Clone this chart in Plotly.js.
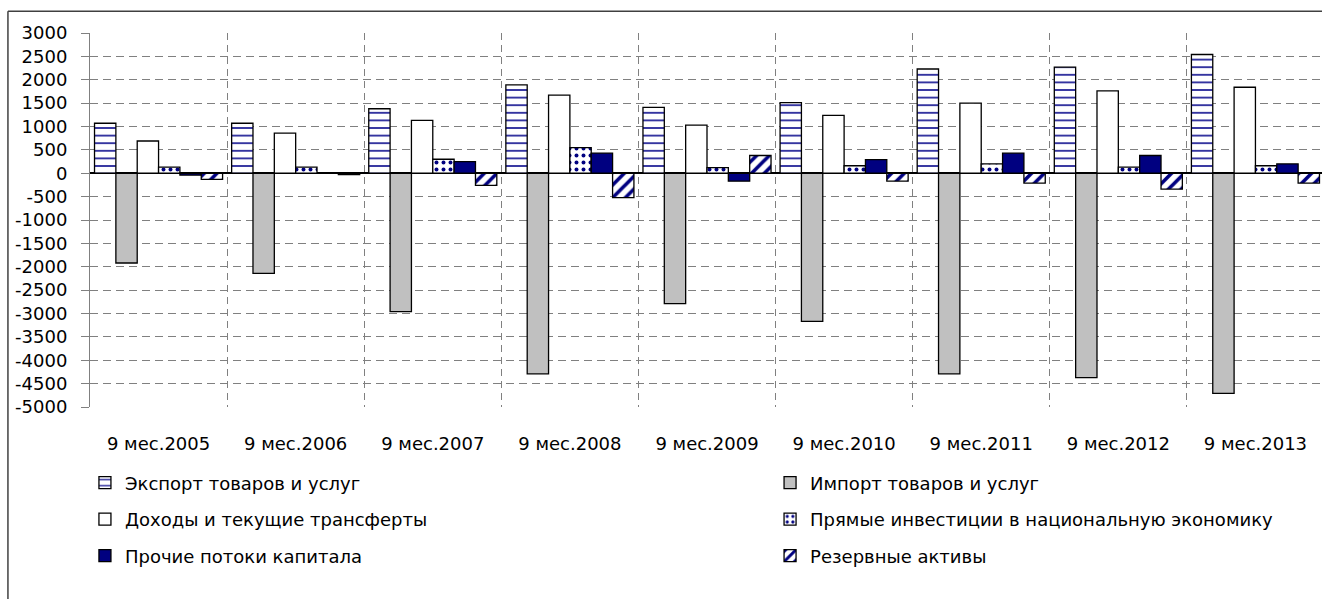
<!DOCTYPE html>
<html>
<head>
<meta charset="utf-8">
<script src="https://cdn.plot.ly/plotly-3.0.1.min.js"></script>
<style>
html,body{margin:0;padding:0;overflow:hidden;background:#fff;}
#chart{width:1340px;height:599px;}
</style>
</head>
<body>
<div id="chart"></div>
<script>
const categories = ["9 мес.2005","9 мес.2006","9 мес.2007","9 мес.2008","9 мес.2009","9 мес.2010","9 мес.2011","9 мес.2012","9 мес.2013"];
const exportVals   = [1070, 1070, 1380, 1890, 1410, 1510, 2230, 2270, 2540];
const importVals   = [-1920, -2140, -2960, -4290, -2790, -3170, -4290, -4370, -4710];
const incomeVals   = [690, 860, 1130, 1670, 1030, 1240, 1500, 1760, 1840];
const directVals   = [130, 130, 300, 550, 120, 160, 200, 130, 160];
const otherVals    = [-40, 0, 250, 430, -170, 290, 430, 380, 200];
const reserveVals  = [-130, -30, -260, -520, 380, -170, -210, -340, -210];
const seriesNames = ["Экспорт товаров и услуг","Импорт товаров и услуг","Доходы и текущие трансферты","Прямые инвестиции в национальную экономику","Прочие потоки капитала","Резервные активы"];
const yTicks = [3000,2500,2000,1500,1000,500,0,-500,-1000,-1500,-2000,-2500,-3000,-3500,-4000,-4500,-5000];

const NAVY = '#000080';
const FAMILY = 'DejaVu Sans';
const FONT = {family:FAMILY, size:18, color:'#000'};
const LFONT = {family:FAMILY, size:18, color:'#000'};
const outline = {color:'#000', width:1.3};

function bar(name, vals, marker, legend){
  return {type:'bar', name:name, x:categories, y:vals, legend:legend,
    marker:Object.assign({line:outline}, marker), hoverinfo:'skip'};
}

const traces = [
  bar(seriesNames[0], exportVals, {color:'#fff', pattern:{shape:'-', fgcolor:'#3535a0', bgcolor:'#fff', size:7.6, solidity:0.25}}, 'legend'),
  bar(seriesNames[1], importVals, {color:'#c0c0c0'}, 'legend2'),
  bar(seriesNames[2], incomeVals, {color:'#fff'}, 'legend3'),
  bar(seriesNames[3], directVals, {color:'#fff', pattern:{shape:'.', fgcolor:NAVY, bgcolor:'#fff', size:7, solidity:0.25}}, 'legend4'),
  bar(seriesNames[4], otherVals, {color:NAVY}, 'legend5'),
  bar(seriesNames[5], reserveVals, {color:'#fff', pattern:{shape:'/', fgcolor:NAVY, bgcolor:'#fff', size:9, solidity:0.4}}, 'legend6')
];

// legend placement in paper coordinates (plot area: 1234 x 374 px)
const colX = [-0.0041, 0.5511];
const rowY = [-0.2032, -0.3008, -0.3984];
function leg(c, r){
  return {orientation:'v', x:colX[c], y:rowY[r], xanchor:'left', yanchor:'middle',
    font:LFONT, bgcolor:'rgba(0,0,0,0)', itemclick:false, itemdoubleclick:false, visible:true};
}

const layout = {
  width:1340, height:599,
  margin:{l:90, r:16, t:33, b:192},
  paper_bgcolor:'#fff', plot_bgcolor:'#fff',
  barmode:'group', bargap:0.066, bargroupgap:0,
  showlegend:true,
  font:FONT,
  xaxis:{type:'category', tickson:'boundaries', showgrid:true, gridcolor:'#808080', gridwidth:1,
    griddash:'7px,5px', ticks:'', showline:false, zeroline:false,
    tickfont:FONT, ticklabelstandoff:24, fixedrange:true},
  yaxis:{range:[-5000,3000], tickvals:yTicks, ticktext:yTicks.map(String),
    showgrid:true, gridcolor:'#808080', gridwidth:1, griddash:'8px,5px',
    zeroline:true, zerolinecolor:'#000', zerolinewidth:1.6,
    showline:true, linecolor:'#808080', linewidth:1,
    ticks:'outside', ticklen:8, tickcolor:'#808080', tickwidth:1,
    tickfont:FONT, ticklabelstandoff:10, fixedrange:true},
  legend:leg(0,0), legend2:leg(1,0),
  legend3:leg(0,1), legend4:leg(1,1),
  legend5:leg(0,2), legend6:leg(1,2),
  shapes:[
    {type:'line', xref:'paper', yref:'paper', x0:-0.0665, x1:1.2, y0:1.058, y1:1.058, line:{color:'#404040', width:1.5}},
    {type:'line', xref:'paper', yref:'paper', x0:-0.0665, x1:-0.0665, y0:1.058, y1:-0.6, line:{color:'#404040', width:1.5}}
  ]
};

Plotly.newPlot('chart', traces, layout, {staticPlot:true, displayModeBar:false});
</script>
</body>
</html>
